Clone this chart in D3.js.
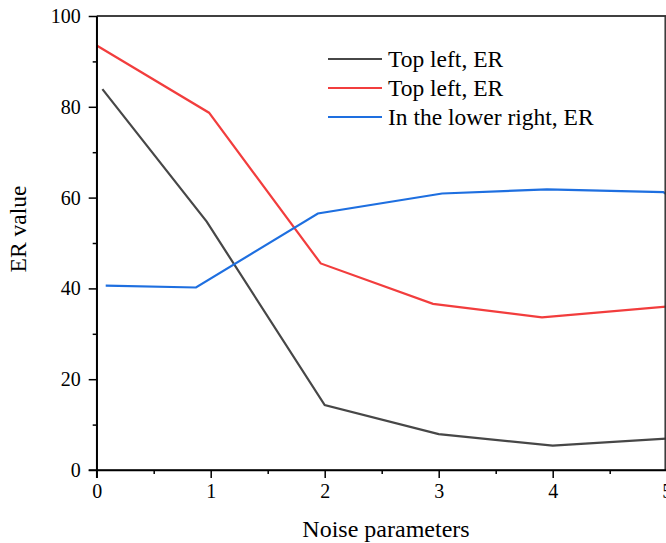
<!DOCTYPE html>
<html>
<head>
<meta charset="utf-8">
<script src="https://cdn.jsdelivr.net/npm/d3@7"></script>
<style>
  html, body { margin: 0; padding: 0; background: #fff; }
  svg { display: block; }
  text { font-family: "Liberation Serif", "Times New Roman", serif; fill: #000; }
</style>
</head>
<body>
<svg id="chart" width="666" height="543"></svg>
<script>
// ---- data ----
const seriesNames = ["Top left, ER", "Top left, ER", "In the lower right, ER"];
const seriesColors = ["#474747", "#f23d3d", "#1e6fe0"];
const blackX = [0.05, 0.965, 2.0, 3.0, 4.0, 5.0];
const blackY = [83.9, 54.7, 14.3, 7.9, 5.35, 6.9];
const redX = [0.0, 0.985, 1.965, 2.95, 3.906, 5.0];
const redY = [93.5, 78.7, 45.5, 36.6, 33.6, 36.0];
const blueX = [0.079, 0.871, 1.94, 3.03, 3.95, 4.97, 5.0];
const blueY = [40.6, 40.2, 56.5, 60.9, 61.8, 61.2, 60.7];
const xTicks = [0, 1, 2, 3, 4, 5];
const yTicks = [0, 20, 40, 60, 80, 100];
const xLabel = "Noise parameters";
const yLabel = "ER value";

const series = [
  { name: seriesNames[0], color: seriesColors[0], pts: blackX.map((x, i) => [x, blackY[i]]) },
  { name: seriesNames[1], color: seriesColors[1], pts: redX.map((x, i) => [x, redY[i]]) },
  { name: seriesNames[2], color: seriesColors[2], pts: blueX.map((x, i) => [x, blueY[i]]) }
];

const svg = d3.select("#chart");
const mLeft = 96.7, mRight = 666.7, mTop = 16, mBottom = 470;
const x = d3.scaleLinear().domain([0, 5]).range([mLeft, mRight]);
const y = d3.scaleLinear().domain([0, 100]).range([mBottom, mTop]);

// lines
const line = d3.line().x(d => x(d[0])).y(d => y(d[1]));
const gLines = svg.append("g");
series.forEach(s => {
  gLines.append("path")
    .attr("d", line(s.pts))
    .attr("fill", "none")
    .attr("stroke", s.color)
    .attr("stroke-width", 2.2)
    .attr("stroke-linejoin", "miter");
});

// frame top and right
svg.append("line").attr("x1", mLeft).attr("x2", mRight).attr("y1", mTop).attr("y2", mTop)
  .attr("stroke", "#000").attr("stroke-width", 1.5);
svg.append("line").attr("x1", x(5) - 1.5).attr("x2", x(5) - 1.5).attr("y1", mTop).attr("y2", mBottom)
  .attr("stroke", "#333").attr("stroke-width", 1.5);

// axes
const xAxis = svg.append("g").attr("transform", `translate(0,${mBottom})`)
  .call(d3.axisBottom(x).tickValues(xTicks).tickFormat(d3.format("d")).tickSizeInner(8).tickSizeOuter(0).tickPadding(6));
const xMinor = svg.append("g").attr("transform", `translate(0,${mBottom})`)
  .call(d3.axisBottom(x).tickValues([0.5, 1.5, 2.5, 3.5, 4.5]).tickFormat("").tickSizeInner(4).tickSizeOuter(0));
const yAxis = svg.append("g").attr("transform", `translate(${mLeft},0)`)
  .call(d3.axisLeft(y).tickValues(yTicks).tickFormat(d3.format("d")).tickSizeInner(8).tickSizeOuter(0).tickPadding(8));
const yMinor = svg.append("g").attr("transform", `translate(${mLeft},0)`)
  .call(d3.axisLeft(y).tickValues([10, 30, 50, 70, 90]).tickFormat("").tickSizeInner(4).tickSizeOuter(0));

[xAxis, xMinor, yAxis, yMinor].forEach(g => {
  g.attr("font-family", null);
  g.selectAll(".domain").attr("stroke", "#000").attr("stroke-width", 1.5);
  g.selectAll(".tick line").attr("stroke", "#000").attr("stroke-width", 1.5);
  g.selectAll(".tick text").attr("font-size", 20).attr("fill", "#000");
});
xAxis.select(".domain").attr("d", `M${mLeft - 8},0H${mRight}`);
yAxis.select(".domain").attr("d", `M0,${mTop}V${mBottom + 8}`);

// axis labels
svg.append("text").attr("x", 386).attr("y", 536.5).attr("text-anchor", "middle")
  .attr("font-size", 24).text(xLabel);
svg.append("text").attr("transform", "translate(25.5,229) rotate(-90)").attr("text-anchor", "middle")
  .attr("font-size", 23.5).text(yLabel);

// legend
const legend = svg.append("g");
const legY = [59, 88, 117];
series.forEach((s, i) => {
  legend.append("line").attr("x1", 328).attr("x2", 382).attr("y1", legY[i]).attr("y2", legY[i])
    .attr("stroke", s.color).attr("stroke-width", 2.2);
  legend.append("text").attr("x", 388).attr("y", legY[i] + 7.5).attr("font-size", 23.5).text(s.name);
});
</script>
</body>
</html>
